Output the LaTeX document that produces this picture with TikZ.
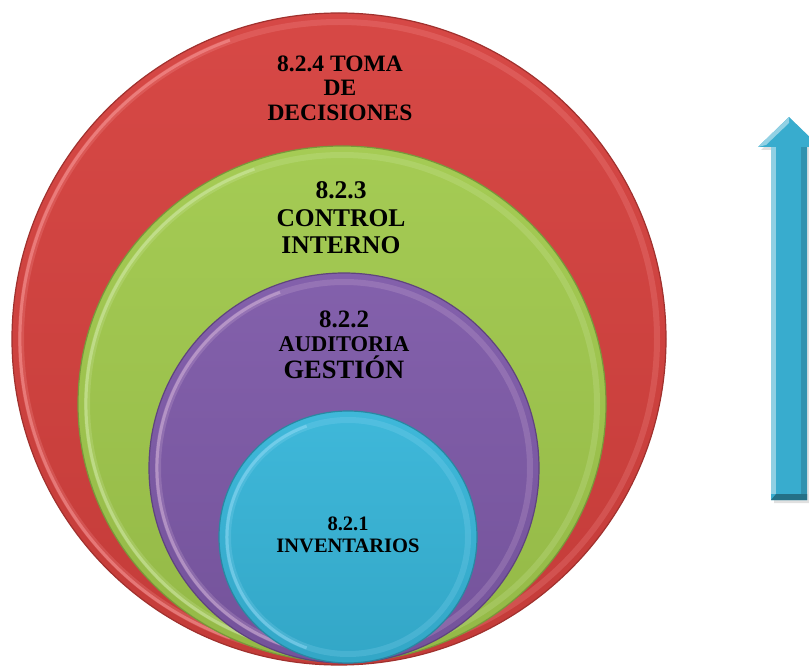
\documentclass[tikz,border=0pt]{standalone}
\usepackage{fontspec}
\setmainfont{Liberation Serif}
\usepackage{tikz}
\usetikzlibrary{positioning, calc}
\definecolor{capared}{RGB}{213,65,62}
\definecolor{capaverde}{RGB}{161,201,77}
\definecolor{capamorada}{RGB}{126,90,168}
\definecolor{capacian}{RGB}{55,181,216}
\definecolor{flecha}{RGB}{56,172,206}
% one layer: centre x, centre y, x radius, y radius, fill, rim colour
\newcommand{\anillo}[6]{%
	\shade[top color=#5!96!white, bottom color=#5!92!black] (#1,#2) ellipse [x radius=#3, y radius=#4];
	\draw[line width=6pt, #6, opacity=0.2] (#1,#2) ellipse [x radius=#3-9, y radius=#4-9];
	\draw[line width=3pt, #6, opacity=0.45] ($(#1,#2)+(110:{#3-8} and {#4-8})$) arc [start angle=110, end angle=250, x radius=#3-8, y radius=#4-8];
	\draw[line width=1.2pt, #5!75!black] (#1,#2) ellipse [x radius=#3, y radius=#4];
}

\begin{document}
\begin{tikzpicture}[x=1pt, y=-1pt]
	\tikzstyle{etiq}=[align=center, inner sep=0pt, text=black]
	\useasboundingbox (0,0) rectangle (809,668);
	\clip (0,0) rectangle (809,668);
	
	\anillo{339}{339}{327}{326}{capared}{red!35!white}
	\anillo{342}{404}{264}{258}{capaverde}{yellow!50!green!30!white}
	\anillo{344}{468}{195}{195}{capamorada}{violet!25!white}
	\anillo{348}{537}{129}{126}{capacian}{cyan!40!white}
	
	\node[etiq, font=\fontsize{23.5}{24.5}\selectfont\bfseries] (c4) at (340,88) {8.2.4 TOMA\\DE\\DECISIONES};
	\node[etiq, font=\fontsize{25.5}{27.5}\selectfont\bfseries] (c3) at (341,218) {8.2.3\\CONTROL\\INTERNO};
	\node[etiq, font=\fontsize{25}{26}\selectfont\bfseries] (c2) at (344,345) {8.2.2\\[-2pt]{\fontsize{22.5}{22}\selectfont AUDITORIA}\\[1pt]{\fontsize{26.5}{27}\selectfont GESTIÓN}};
	\node[etiq, font=\fontsize{20.5}{22}\selectfont\bfseries] (c1) at (348,535) {8.2.1\\INVENTARIOS};
	
	% flecha
	\fill[black, opacity=0.12] (774,503) -- (774,150) -- (761,150) -- (792,120) -- (823,150) -- (810,150) -- (810,503) -- cycle;
	\fill[flecha] (771,500) -- (771,147) -- (758,147) -- (789,117) -- (820,147) -- (807,147) -- (807,500) -- cycle;
	\fill[flecha!55!white] (758,147) -- (789,117) -- (789,123) -- (766,145) -- cycle;
	\fill[flecha!45!white, opacity=0.8] (771,494) -- (771,147) -- (776,147) -- (776,494) -- cycle;
	\fill[flecha!85!black] (801,494) -- (801,147) -- (807,147) -- (807,494) -- cycle;
	\fill[flecha!65!black] (771,500) -- (776,494) -- (807,494) -- (807,500) -- cycle;
\end{tikzpicture}
\end{document}
